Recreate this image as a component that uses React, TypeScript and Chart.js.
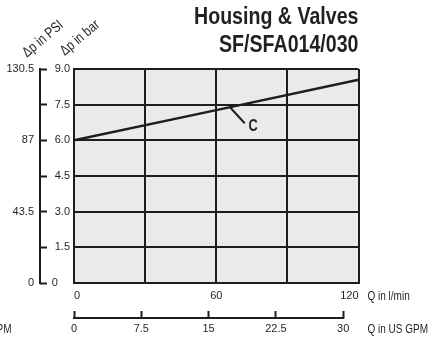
import React, { useEffect, useRef } from 'react';
import { Chart, registerables } from 'chart.js';

Chart.register(...registerables);

// ---------------- data ----------------
const flowLpm = [0, 60, 120];
const dpBar = [6.0, 7.27, 8.55];

const lpmTicks = [0, 30, 60, 90, 120];
const lpmLabels = ['0', '', '60', '', '120'];
const gpmTicks = [0, 7.5, 15, 22.5, 30];
const gpmLabels = ['0', '7.5', '15', '22.5', '30'];
const barTicks = [0, 1.5, 3, 4.5, 6, 7.5, 9];
const barLabels = ['0', '1.5', '3.0', '4.5', '6.0', '7.5', '9.0'];
const psiTicks = [0, 21.75, 43.5, 65.25, 87, 108.75, 130.5];
const psiLabels = ['0', '', '43.5', '', '87', '', '130.5'];
const LPM_PER_GPM = 3.785411784;

const titleLines = ['Housing & Valves', 'SF/SFA014/030'];
const yTitles = ['Δp in PSI', 'Δp in bar'];
const xTitles = ['Q in l/min', 'Q in US GPM'];
const curveName = 'C';
// annotation anchors in data units (l/min, bar)
const leaderFrom = [65.8, 7.39];
const leaderTo = [72, 6.72];
const labelAt = [75.6, 6.58];

// ---------------- style ----------------
const INK = '#1e1d1c';
const TXT = '#231f20';
const PLOT_BG = '#e9eaea';

function hasFont(name: string) {
  const c = document.createElement('canvas').getContext('2d')!;
  const s = 'Δp 130.5 Housing & Valves';
  c.font = '20px monospace';
  const a = c.measureText(s).width;
  c.font = `20px "${name}", monospace`;
  const b = c.measureText(s).width;
  return Math.abs(a - b) > 0.5;
}

function drawText(
  ctx: CanvasRenderingContext2D,
  text: string,
  x: number,
  y: number,
  font: string,
  align: CanvasTextAlign,
  sx: number,
  angle = 0,
  baseline: CanvasTextBaseline = 'middle'
) {
  ctx.save();
  ctx.translate(x, y);
  if (angle) ctx.rotate(angle);
  ctx.scale(sx, 1);
  ctx.font = font;
  ctx.textAlign = align;
  ctx.textBaseline = baseline;
  ctx.fillStyle = TXT;
  ctx.fillText(text, 0, 0);
  ctx.restore();
}

export default function App() {
  const ref = useRef<HTMLCanvasElement | null>(null);

  useEffect(() => {
    const narrow = hasFont('Liberation Sans Narrow');
    const FAMILY = narrow ? '"Liberation Sans Narrow", "Liberation Sans", Arial, sans-serif' : '"Liberation Sans", Arial, sans-serif';
    const SX = narrow ? 1 : 0.8;
    const TICK_SIZE = narrow ? 12.5 : 11;
    const tickFont = { family: FAMILY, size: TICK_SIZE };
    const TITLE_ANGLE = -0.7;

    const decor = {
      id: 'decor',
      beforeDraw(chart: any) {
        const { ctx, chartArea: a } = chart;
        ctx.save();
        ctx.fillStyle = PLOT_BG;
        ctx.fillRect(a.left, a.top, a.right - a.left, a.bottom - a.top);
        ctx.restore();
      },
      afterDraw(chart: any) {
        const { ctx, chartArea: a, scales } = chart;
        const x = scales.x, x2 = scales.x2, y = scales.y, yp = scales.yPsi;
        ctx.save();
        ctx.strokeStyle = INK;
        ctx.lineWidth = 2;
        ctx.lineCap = 'square';
        // PSI bracket
        const bx = yp.right - 7;
        ctx.beginPath();
        ctx.moveTo(bx, yp.getPixelForValue(psiTicks[psiTicks.length - 1]));
        ctx.lineTo(bx, yp.getPixelForValue(psiTicks[0]));
        ctx.stroke();
        // GPM bracket
        const by = x2.top + 7;
        ctx.beginPath();
        ctx.moveTo(x2.getPixelForValue(gpmTicks[0]), by);
        ctx.lineTo(x2.getPixelForValue(gpmTicks[gpmTicks.length - 1]), by);
        ctx.stroke();
        // leader line for curve label
        ctx.lineCap = 'butt';
        ctx.beginPath();
        ctx.moveTo(x.getPixelForValue(leaderFrom[0]), y.getPixelForValue(leaderFrom[1]));
        ctx.lineTo(x.getPixelForValue(leaderTo[0]), y.getPixelForValue(leaderTo[1]));
        ctx.stroke();
        ctx.restore();

        drawText(ctx, curveName, x.getPixelForValue(labelAt[0]), y.getPixelForValue(labelAt[1]), `bold 16px ${FAMILY}`, 'center', SX);
        // title
        drawText(ctx, titleLines[0], a.right, 24, `bold 24.5px ${FAMILY}`, 'right', SX, 0, 'alphabetic');
        drawText(ctx, titleLines[1], a.right, 52, `bold 24.5px ${FAMILY}`, 'right', SX, 0, 'alphabetic');
        // rotated y titles
        drawText(ctx, yTitles[0], 43, 39, `14.5px ${FAMILY}`, 'center', SX, TITLE_ANGLE);
        drawText(ctx, yTitles[1], 80, 38, `14.5px ${FAMILY}`, 'center', SX, TITLE_ANGLE);
        // x unit titles
        drawText(ctx, xTitles[0], a.right + 9, 297, `12.5px ${FAMILY}`, 'left', SX);
        drawText(ctx, xTitles[1], a.right + 9, 330, `12.5px ${FAMILY}`, 'left', SX);
        drawText(ctx, xTitles[1], 11.5, 330, `12.5px ${FAMILY}`, 'right', SX);
      },
    };

    const chart = new Chart(ref.current!, {
      type: 'scatter',
      data: {
        datasets: [
          {
            data: flowLpm.map((v, i) => ({ x: v, y: dpBar[i] })),
            showLine: true,
            borderColor: INK,
            borderWidth: 2.5,
            pointRadius: 0,
            xAxisID: 'x',
            yAxisID: 'y',
          },
        ],
      },
      options: {
        animation: false,
        responsive: false,
        events: [],
        layout: { padding: { top: 69, right: 69.5, bottom: 3, left: 0 } },
        plugins: { legend: { display: false }, tooltip: { enabled: false }, title: { display: false } },
        scales: {
          x: {
            type: 'linear',
            position: 'bottom',
            weight: 0,
            min: 0,
            max: 120,
            afterBuildTicks: (s: any) => { s.ticks = lpmTicks.map((v) => ({ value: v })); },
            afterFit: (s: any) => { s.height = 28; },
            grid: { color: INK, lineWidth: 2, drawTicks: false },
            border: { display: true, color: INK, width: 2 },
            ticks: { font: tickFont, color: TXT, padding: 6.5, align: 'inner', maxRotation: 0, autoSkip: false, callback: (_v: any, i: number) => lpmLabels[i] },
          },
          x2: {
            type: 'linear',
            position: 'bottom',
            weight: 1,
            min: 0,
            max: 120 / LPM_PER_GPM,
            afterBuildTicks: (s: any) => { s.ticks = gpmTicks.map((v) => ({ value: v })); },
            afterFit: (s: any) => { s.height = 26; },
            grid: { display: true, drawOnChartArea: false, drawTicks: true, tickLength: 7, tickWidth: 2, tickColor: INK },
            border: { display: false },
            ticks: { font: tickFont, color: TXT, padding: 4.5, maxRotation: 0, autoSkip: false, callback: (_v: any, i: number) => gpmLabels[i] },
          },
          y: {
            type: 'linear',
            position: 'left',
            weight: 0,
            min: 0,
            max: 9,
            afterBuildTicks: (s: any) => { s.ticks = barTicks.map((v) => ({ value: v })); },
            afterFit: (s: any) => { s.width = 27; },
            grid: { color: INK, lineWidth: 2, drawTicks: false },
            border: { display: true, color: INK, width: 2 },
            ticks: {
              font: tickFont, color: TXT, padding: 4, crossAlign: 'near', autoSkip: false,
              // pad short labels with figure spaces so they line up on the left like the others
              callback: (_v: any, i: number) => barLabels[i].padEnd(3, '\u2007'),
            },
          },
          yPsi: {
            type: 'linear',
            position: 'left',
            weight: 1,
            min: 0,
            max: 130.5,
            afterBuildTicks: (s: any) => { s.ticks = psiTicks.map((v) => ({ value: v })); },
            afterFit: (s: any) => { s.width = 47; },
            grid: { display: true, drawOnChartArea: false, drawTicks: true, tickLength: 7, tickWidth: 2, tickColor: INK },
            border: { display: false },
            ticks: { font: tickFont, color: TXT, padding: 6, autoSkip: false, callback: (_v: any, i: number) => psiLabels[i] },
          },
        },
      } as any,
      plugins: [decor],
    });
    return () => chart.destroy();
  }, []);

  return (
    <div style={{ position: 'absolute', left: 0, top: 0, width: 428, height: 340, background: '#fff' }}>
      <canvas ref={ref} width={428} height={340} style={{ display: 'block' }} />
    </div>
  );
}
